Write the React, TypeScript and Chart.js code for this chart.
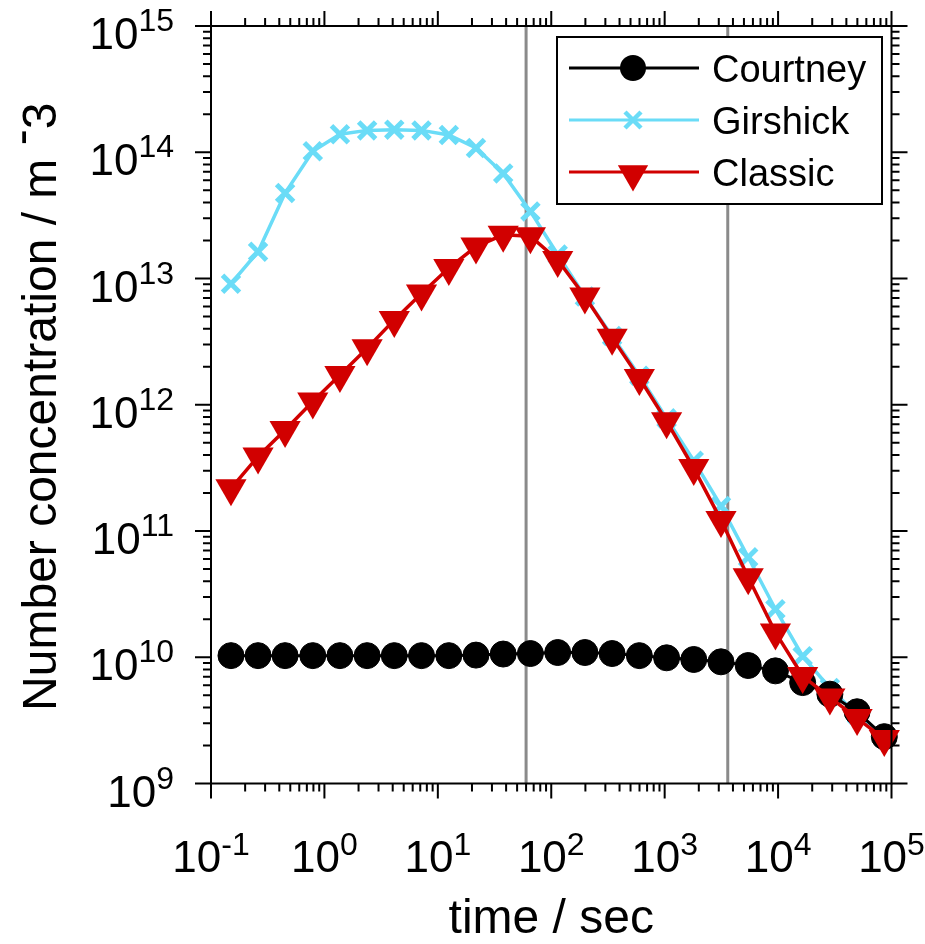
import { useEffect, useRef } from "react";
import { Chart, registerables } from "chart.js";

Chart.register(...registerables);

// sample times (s), log spaced from 0.15 s to one day
const times = [
  0.15, 0.26, 0.45, 0.79, 1.37, 2.38, 4.13, 7.18, 12.5, 21.7, 37.7, 65.5, 114,
  198, 344, 598, 1040, 1805, 3137, 5452, 9475, 16470, 28620, 49730, 86400,
];

const courtney = [
  1.03e10, 1.03e10, 1.03e10, 1.03e10, 1.03e10, 1.03e10, 1.03e10, 1.03e10,
  1.03e10, 1.04e10, 1.06e10, 1.07e10, 1.09e10, 1.09e10, 1.07e10, 1.03e10,
  9.9e9, 9.6e9, 9.2e9, 8.6e9, 7.8e9, 6.3e9, 5.1e9, 3.7e9, 2.35e9,
];

const girshick = [
  9.1e12, 1.63e13, 4.75e13, 1.02e14, 1.39e14, 1.49e14, 1.51e14, 1.49e14,
  1.37e14, 1.08e14, 6.8e13, 3.4e13, 1.55e13, 7.2e12, 3.5e12, 1.7e12, 7.8e11,
  3.6e11, 1.58e11, 6.2e10, 2.4e10, 1.02e10, 5.7e9, 3.5e9, 2.3e9,
];

const classic = [
  2.18e11, 3.9e11, 6.3e11, 1.06e12, 1.72e12, 2.8e12, 4.7e12, 7.6e12, 1.21e13,
  1.79e13, 2.22e13, 2.16e13, 1.4e13, 7.2e12, 3.4e12, 1.63e12, 7.4e11, 3.15e11,
  1.22e11, 4.3e10, 1.57e10, 7.1e9, 4.8e9, 3.3e9, 2.25e9,
];

const seriesNames = ["Courtney", "Girshick", "Classic"];
const xTickExps = ["-1", "0", "1", "2", "3", "4", "5"];
const yTickExps = ["9", "10", "11", "12", "13", "14", "15"];
// 1 minute and 1 hour guide lines
const guideTimes = [60, 3600];

const FONT = "'Liberation Sans', Arial, Helvetica, sans-serif";
const BLACK = "#000000";
const CYAN = "#6adcf7";
const RED = "#d10000";

function tickList(lo: number, hi: number) {
  const out: { v: number; major: boolean }[] = [];
  for (let d = lo; d < hi; d++) {
    for (let m = 1; m < 10; m++) out.push({ v: m * Math.pow(10, d), major: m === 1 });
  }
  out.push({ v: Math.pow(10, hi), major: true });
  return out;
}

function drawMarker(ctx: CanvasRenderingContext2D, kind: string, x: number, y: number) {
  ctx.save();
  if (kind === "circle") {
    ctx.fillStyle = BLACK;
    ctx.beginPath();
    ctx.arc(x, y, 13, 0, Math.PI * 2);
    ctx.fill();
  } else if (kind === "cross") {
    ctx.strokeStyle = CYAN;
    ctx.lineWidth = 4.5;
    const r = 8;
    ctx.beginPath();
    ctx.moveTo(x - r, y - r);
    ctx.lineTo(x + r, y + r);
    ctx.moveTo(x + r, y - r);
    ctx.lineTo(x - r, y + r);
    ctx.stroke();
  } else {
    ctx.fillStyle = RED;
    const r = 17.5;
    ctx.beginPath();
    ctx.moveTo(x, y + r);
    ctx.lineTo(x - r * 0.866, y - r / 2);
    ctx.lineTo(x + r * 0.866, y - r / 2);
    ctx.closePath();
    ctx.fill();
  }
  ctx.restore();
}

const framePlugin = {
  id: "frame",
  beforeDatasetsDraw(chart: any) {
    const { ctx, chartArea: a, scales } = chart;
    ctx.save();
    ctx.strokeStyle = "#8a8a8a";
    ctx.lineWidth = 3;
    guideTimes.forEach((t) => {
      const px = scales.x.getPixelForValue(t);
      ctx.beginPath();
      ctx.moveTo(px, a.top);
      ctx.lineTo(px, a.bottom);
      ctx.stroke();
    });
    ctx.restore();
  },
  afterDraw(chart: any) {
    const { ctx, chartArea: a, scales } = chart;
    const xs = scales.x;
    const ys = scales.y;
    ctx.save();

    // box
    ctx.strokeStyle = BLACK;
    ctx.lineWidth = 2;
    ctx.strokeRect(a.left, a.top, a.right - a.left, a.bottom - a.top);

    // ticks on all four sides, pointing outward
    ctx.beginPath();
    tickList(-1, 5).forEach(({ v, major }) => {
      const px = xs.getPixelForValue(v);
      const len = major ? 15 : 8;
      ctx.moveTo(px, a.bottom);
      ctx.lineTo(px, a.bottom + len);
      ctx.moveTo(px, a.top);
      ctx.lineTo(px, a.top - len);
    });
    tickList(9, 15).forEach(({ v, major }) => {
      const py = ys.getPixelForValue(v);
      const len = major ? 16 : 8;
      ctx.moveTo(a.left, py);
      ctx.lineTo(a.left - len, py);
      ctx.moveTo(a.right, py);
      ctx.lineTo(a.right + len, py);
    });
    ctx.stroke();

    // tick labels 10^n
    ctx.fillStyle = BLACK;
    ctx.textBaseline = "alphabetic";
    ctx.textAlign = "left";
    const baseFont = `44px ${FONT}`;
    const supFont = `32px ${FONT}`;
    const measure = (exp: string) => {
      ctx.font = baseFont;
      const w1 = ctx.measureText("10").width;
      ctx.font = supFont;
      const w2 = ctx.measureText(exp).width;
      return [w1, w2];
    };
    xTickExps.forEach((exp) => {
      const px = xs.getPixelForValue(Math.pow(10, Number(exp)));
      const [w1, w2] = measure(exp);
      const x0 = px - (w1 + w2) / 2;
      ctx.font = baseFont;
      ctx.fillText("10", x0, a.bottom + 88);
      ctx.font = supFont;
      ctx.fillText(exp, x0 + w1, a.bottom + 71);
    });
    yTickExps.forEach((exp) => {
      const py = ys.getPixelForValue(Math.pow(10, Number(exp)));
      const [w1, w2] = measure(exp);
      const x0 = 174 - (w1 + w2);
      ctx.font = baseFont;
      ctx.fillText("10", x0, py + 23);
      ctx.font = supFont;
      ctx.fillText(exp, x0 + w1, py + 5);
    });

    // axis titles
    ctx.font = `48px ${FONT}`;
    ctx.textAlign = "center";
    ctx.fillText("time / sec", (a.left + a.right) / 2, 933);

    ctx.save();
    ctx.translate(56, (a.top + a.bottom) / 2 + 2);
    ctx.rotate(-Math.PI / 2);
    ctx.textAlign = "left";
    const part1 = "Number concentration / m ";
    const w1 = ctx.measureText(part1).width;
    const w2 = ctx.measureText("-").width;
    const w3 = ctx.measureText("3").width;
    const start = -(w1 + w2 + w3) / 2;
    ctx.fillText(part1, start, 0);
    ctx.fillText("-", start + w1, -19);
    ctx.fillText("3", start + w1 + w2, 0);
    ctx.restore();

    // legend
    const lx = 557, ly = 37, lw = 325, lh = 167;
    ctx.fillStyle = "#ffffff";
    ctx.fillRect(lx, ly, lw, lh);
    ctx.strokeStyle = BLACK;
    ctx.lineWidth = 2;
    ctx.strokeRect(lx, ly, lw, lh);
    const colors = [BLACK, CYAN, RED];
    const kinds = ["circle", "cross", "triangle"];
    seriesNames.forEach((name, i) => {
      const y = 68 + i * 52;
      ctx.strokeStyle = colors[i];
      ctx.lineWidth = 3;
      ctx.beginPath();
      ctx.moveTo(569, y);
      ctx.lineTo(699, y);
      ctx.stroke();
      drawMarker(ctx, kinds[i], 633, i === 2 ? y + 2 : y);
      ctx.fillStyle = BLACK;
      ctx.font = `38px ${FONT}`;
      ctx.textAlign = "left";
      ctx.fillText(name, 712, y + 14);
    });

    ctx.restore();
  },
};

export default function App() {
  const canvasRef = useRef<HTMLCanvasElement | null>(null);

  useEffect(() => {
    if (!canvasRef.current) return;
    const toPoints = (vals: number[]) => vals.map((v, i) => ({ x: times[i], y: v }));

    const chart = new Chart(canvasRef.current, {
      type: "line",
      data: {
        datasets: [
          {
            label: seriesNames[2],
            data: toPoints(classic),
            borderColor: RED,
            borderWidth: 3.5,
            pointStyle: "triangle",
            pointRotation: 180,
            pointRadius: 18,
            pointBackgroundColor: RED,
            pointBorderColor: RED,
            pointBorderWidth: 0,
            order: 0,
            clip: false,
          },
          {
            label: seriesNames[0],
            data: toPoints(courtney),
            borderColor: BLACK,
            borderWidth: 3,
            pointStyle: "circle",
            pointRadius: 13,
            pointBackgroundColor: BLACK,
            pointBorderColor: BLACK,
            pointBorderWidth: 1,
            order: 1,
            clip: false,
          },
          {
            label: seriesNames[1],
            data: toPoints(girshick),
            borderColor: CYAN,
            borderWidth: 3.5,
            pointStyle: "crossRot",
            pointRadius: 12,
            pointBorderColor: CYAN,
            pointBorderWidth: 5,
            order: 2,
            clip: false,
          },
        ] as any,
      },
      options: {
        animation: false,
        responsive: false,
        devicePixelRatio: 1,
        layout: { padding: { left: 211, top: 26, right: 33.5, bottom: 160.5 } },
        scales: {
          x: { type: "logarithmic", min: 0.1, max: 1e5, display: false },
          y: { type: "logarithmic", min: 1e9, max: 1e15, display: false },
        },
        plugins: {
          legend: { display: false },
          tooltip: { enabled: false },
        },
        elements: { line: { tension: 0 } },
      },
      plugins: [framePlugin],
    });

    return () => chart.destroy();
  }, []);

  return (
    <div style={{ position: "absolute", left: 0, top: 0, width: 925, height: 944, background: "#fff" }}>
      <canvas ref={canvasRef} width={925} height={944} style={{ display: "block" }}></canvas>
    </div>
  );
}
